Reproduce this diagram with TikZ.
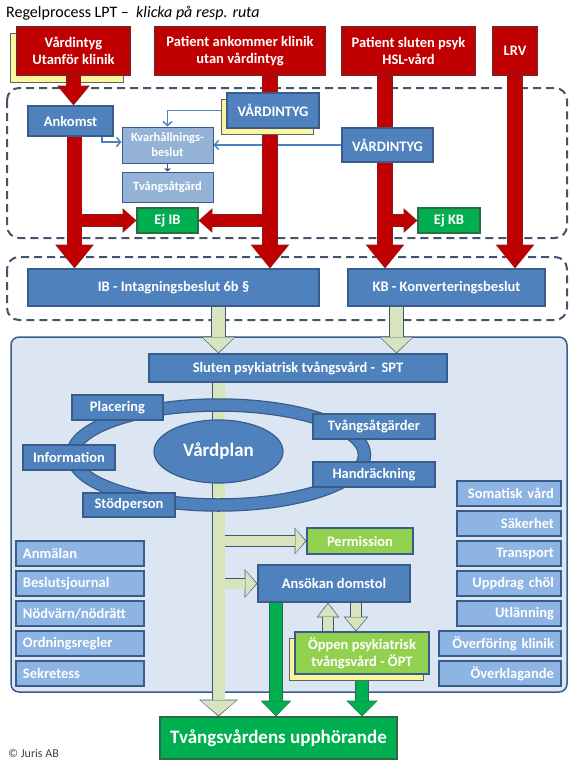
\documentclass[tikz,border=0pt]{standalone}
\usepackage{fontspec}
\setmainfont{Carlito}
\usetikzlibrary{arrows.meta,shapes.geometric,shadows}

\definecolor{lptred}{HTML}{C00000}
\definecolor{redline}{HTML}{8B1A1A}
\definecolor{lptblue}{HTML}{4F81BD}
\definecolor{blueline}{HTML}{385D8A}
\definecolor{softblue}{HTML}{95B3D7}
\definecolor{sideblue}{HTML}{8DB4E2}
\definecolor{bgblue}{HTML}{DCE6F2}
\definecolor{lptgreen}{HTML}{00B050}
\definecolor{greenline}{HTML}{2D6A45}
\definecolor{lptlime}{HTML}{92D050}
\definecolor{palegreen}{HTML}{D7E4BD}
\definecolor{paleline}{HTML}{435670}
\definecolor{paleyellow}{HTML}{FBF59B}
\definecolor{shadowline}{HTML}{5A6470}
\definecolor{dashgray}{HTML}{44546A}
\definecolor{jurisgray}{HTML}{404040}

\newcommand{\lptfont}{\fontsize{14.5}{17}\selectfont\bfseries}
\newcommand{\lptsmall}{\fontsize{12.5}{15}\selectfont\bfseries}
\newcommand{\lptbig}{\fontsize{19}{22}\selectfont\bfseries}

\pgfdeclarelayer{frame}
\pgfdeclarelayer{flow}
\pgfsetlayers{frame,flow,main}

\def\fatrim{0pt}
\def\fatcut{0pt}
\tikzset{
    box/.style={draw=blueline, fill=lptblue, line width=1.2pt, text=white, font=\lptfont, inner sep=0pt, align=center},
    redbox/.style={box, draw=redline, fill=lptred},
    softbox/.style={box, fill=softblue, font=\lptsmall, line width=1pt},
    greenbox/.style={box, draw=greenline, fill=lptgreen},
    limebox/.style={box, fill=lptlime},
    sidebox/.style={box, fill=sideblue, line width=1.8pt, inner xsep=7pt, minimum height=25pt, text width=#1, align=right},
    leftbox/.style={sidebox=#1, align=left},
    yellowshadow/.style={general shadow={fill=paleyellow, draw=shadowline, line width=1pt, shadow xshift=-#1, shadow yshift=-#1}},
    dashframe/.style={draw=dashgray, line width=2pt, dash pattern=on 8pt off 5pt, rounded corners=12pt},
    caseframe/.style={draw=blueline, fill=bgblue, line width=1.5pt, rounded corners=8pt},
    link/.style={draw=lptblue, line width=1.5pt, -{Straight Barb[length=4pt,width=9pt]}},
    fat/.style n args={4}{
        /utils/exec={%
            \pgfmathsetlengthmacro\fatw{#2+2*\fatrim}%
            \pgfmathsetlengthmacro\fatl{#3+2*\fatrim}%
            \pgfmathsetlengthmacro\fath{#4+3*\fatrim}},
        draw=#1, line width=\fatw, shorten >=\fatcut,
        -{Triangle[length=\fatl, width=\fath, line width=0pt]}},
}

\begin{document}
\begin{tikzpicture}[x=1pt, y=-1pt]
    \useasboundingbox (0,0) rectangle (576,768);

    \begin{pgfonlayer}{frame}
        \draw[dashframe] (7,88) rectangle (567,238);
        \draw[dashframe] (7,257) rectangle (567,320);
        \draw[caseframe] (11,337) rectangle (567,692);
    \end{pgfonlayer}

    \node[anchor=west, inner sep=0pt, font=\fontsize{16}{18}\selectfont] (title) at (6,13) {Regelprocess LPT –~ \textit{klicka på resp. ruta}};

    \node[redbox, yellowshadow=7pt, minimum width=113pt, minimum height=48pt] (vu) at (73.5,51) {Vårdintyg\\Utanför klinik};
    \node[redbox, minimum width=170pt, minimum height=48pt] (pak) at (240,51) {Patient ankommer klinik\\utan vårdintyg};
    \node[redbox, minimum width=133pt, minimum height=48pt] (psl) at (408.5,51) {Patient sluten psyk\\HSL-vård};
    \node[redbox, minimum width=44pt, minimum height=48pt] (lrv) at (515,51) {LRV};

    \node[box, minimum width=85pt, minimum height=30pt] (ank) at (70.5,121) {Ankomst};
    \node[box, yellowshadow=6pt, minimum width=92pt, minimum height=35pt] (vint1) at (273,110.5) {VÅRDINTYG};
    \node[box, minimum width=91pt, minimum height=34pt] (vint2) at (387.5,145) {VÅRDINTYG};
    \node[softbox, minimum width=91pt, minimum height=36pt] (kvar) at (167.5,145) {Kvarhållnings-\\beslut};
    \node[softbox, minimum width=91pt, minimum height=30pt] (tva) at (167.5,187) {Tvångsåtgärd};
    \node[greenbox, minimum width=61pt, minimum height=25pt] (ejib) at (167.5,220.5) {Ej IB};
    \node[greenbox, minimum width=62pt, minimum height=25pt] (ejkb) at (449,220.5) {Ej KB};

    \node[box, minimum width=291pt, minimum height=37pt] (ib) at (173.5,287.5) {IB - Intagningsbeslut 6b §};
    \node[box, minimum width=197pt, minimum height=37pt] (kb) at (446.5,287.5) {KB - Konverteringsbeslut};

    \node[box, minimum width=298pt, minimum height=28pt] (spt) at (298,368) {Sluten psykiatrisk tvångsvård -~ SPT};

    \node[box, ellipse, minimum width=129pt, minimum height=63pt, font=\lptbig] (vp) at (218.5,451.5) {Vårdplan};
    \draw[blueline, line width=13.5pt] ([yshift=-3.5pt]vp.center) ellipse [x radius=146pt, y radius=50pt];
    \draw[lptblue, line width=11pt] ([yshift=-3.5pt]vp.center) ellipse [x radius=146pt, y radius=50pt];

    \node[box, minimum width=91pt, minimum height=25pt] (plac) at (117.5,407.5) {Placering};
    \node[box, minimum width=92pt, minimum height=25pt] (info) at (69,457.5) {Information};
    \node[box, minimum width=92pt, minimum height=24pt] (stod) at (129,505) {Stödperson};
    \node[box, minimum width=122pt, minimum height=25pt] (tvag) at (374,426.5) {Tvångsåtgärder};
    \node[box, minimum width=122pt, minimum height=25pt] (hand) at (374,474.5) {Handräckning};

    \node[leftbox=114pt] (anm) at (80,553.5) {Anmälan};
    \node[leftbox=114pt] (besl) at (80,583.5) {Beslutsjournal};
    \node[leftbox=114pt] (nod) at (80,613.5) {Nödvärn/nödrätt};
    \node[leftbox=114pt] (ordn) at (80,643.5) {Ordningsregler};
    \node[leftbox=114pt] (sekr) at (80,673.5) {Sekretess};

    \node[sidebox=90pt] (som) at (509,493.5) {Somatisk vård};
    \node[sidebox=90pt] (sak) at (509,523.5) {Säkerhet};
    \node[sidebox=90pt] (trp) at (509,553.5) {Transport};
    \node[sidebox=90pt] (upp) at (509,583.5) {Uppdrag chöl};
    \node[sidebox=90pt] (utl) at (509,613.5) {Utlänning};
    \node[sidebox=108pt] (ovf) at (500,643.5) {Överföring klinik};
    \node[sidebox=108pt] (ovk) at (500,673.5) {Överklagande};

    \node[limebox, minimum width=106pt, minimum height=26pt] (perm) at (360,541) {Permission};
    \node[box, minimum width=152pt, minimum height=37pt] (ans) at (334,583.5) {Ansökan domstol};
    \node[limebox, yellowshadow=6pt, minimum width=134pt, minimum height=42pt] (opt) at (362,653) {Öppen psykiatrisk\\tvångsvård - ÖPT};

    \node[greenbox, minimum width=237pt, minimum height=42pt, font=\lptbig] (stop) at (278.5,738) {Tvångsvårdens upphörande};
    \node[anchor=west, inner sep=0pt, text=jurisgray, font=\fontsize{12}{14}\selectfont] (juris) at (8,753) {© Juris AB};

    \begin{pgfonlayer}{flow}
        \draw[link] (vint1.west) -| (kvar.north);
        \draw[link] (vint2.west) -- (kvar.east);
        \draw[link] ([xshift=31.5pt]ank.south) |- ([yshift=3pt]kvar.west);
        \draw[blueline, line width=1pt, -{Triangle[length=3pt,width=7pt]}] (kvar.south) -- (tva.north);

        \foreach \fatrim/\redc/\palec/\greenc/\fatcut in {0.9pt/redline/paleline/greenline/0pt, 0pt/lptred/palegreen/lptgreen/1.1pt}{
            \draw[fat={\redc}{14pt}{22pt}{36pt}] ([xshift=4pt]ank.south) -- ([xshift=4pt]ank.south |- ib.north);
            \draw[fat={\redc}{11pt}{12pt}{22pt}] ([xshift=4pt]ank.south |- ejib.west) -- (ejib.west);
            \draw[fat={\redc}{14pt}{22pt}{36pt}] ([xshift=30pt]pak.south) -- ([xshift=30pt]pak.south |- ib.north);
            \draw[fat={\redc}{11pt}{12pt}{22pt}] ([xshift=30pt]pak.south |- ejib.east) -- (ejib.east);
            \draw[fat={\redc}{14pt}{22pt}{36pt}] ([xshift=-23.5pt]psl.south) -- ([xshift=-23.5pt]psl.south |- kb.north);
            \draw[fat={\redc}{11pt}{12pt}{22pt}] ([xshift=-23.5pt]psl.south |- ejkb.west) -- (ejkb.west);
            \draw[fat={\redc}{14pt}{22pt}{36pt}] (lrv.south) -- (lrv.south |- kb.north);

            \draw[fat={\palec}{13pt}{15pt}{32pt}] (ib.south -| vp.center) -- (spt.north -| vp.center);
            \draw[fat={\palec}{13pt}{15pt}{32pt}] ([xshift=-50pt]kb.south) -- ([xshift=-50pt]kb.south |- spt.north);
            \draw[fat={\palec}{12pt}{15pt}{36pt}] (spt.south -| vp.center) -- (stop.north -| vp.center);
            \draw[fat={\palec}{10pt}{10pt}{24pt}] (perm.west -| vp.center) -- (perm.west);
            \draw[fat={\palec}{10pt}{11pt}{26pt}] (ans.west -| vp.center) -- (ans.west);
            \draw[fat={\palec}{10pt}{13pt}{22pt}] ([xshift=22pt]ans.south) -- ([xshift=22pt]ans.south |- opt.north);
            \draw[fat={\palec}{10pt}{13pt}{20pt}] ([xshift=-6pt]ans.south |- opt.north) -- ([xshift=-6pt]ans.south);

            \draw[fat={\greenc}{12pt}{14pt}{28pt}] ([xshift=-58pt]ans.south) -- ([xshift=-58pt]ans.south |- stop.north);
            \draw[fat={\greenc}{12pt}{14pt}{29pt}] (opt.south) -- (opt.south |- stop.north);
        }
    \end{pgfonlayer}

    \foreach \fatrim/\redc/\fatcut in {0.9pt/redline/0pt, 0pt/lptred/1.1pt}
        \draw[fat={\redc}{14pt}{18pt}{30pt}] (vu.south) -- (vu.south |- ank.north);
\end{tikzpicture}
\end{document}
